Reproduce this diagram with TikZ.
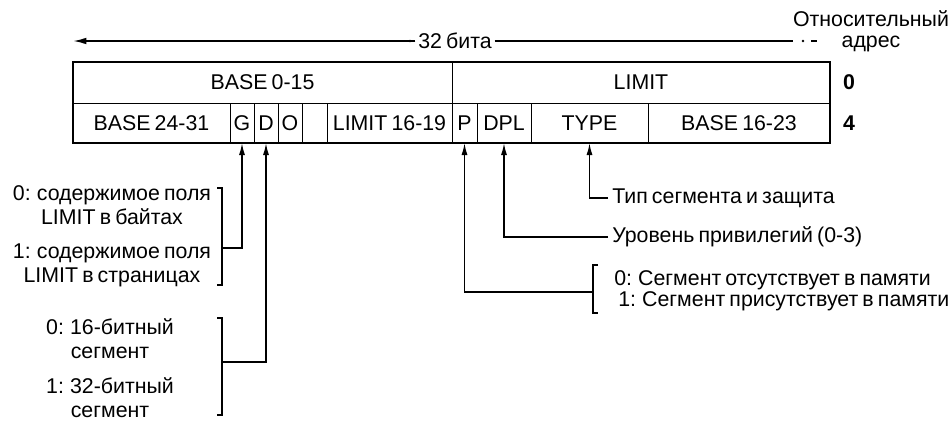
\documentclass[tikz,border=0pt]{standalone}
\usepackage{fontspec}
\setmainfont{Liberation Sans}[WordSpace=0.7]
\usetikzlibrary{arrows.meta,positioning}

\begin{document}
\begin{tikzpicture}[
  x=0.75pt, y=-0.75pt,
  font=\fontsize{16}{18}\selectfont,
  cell/.style ={draw,line width=0.7pt,inner sep=0pt,outer sep=0pt,minimum height=30pt},
  note/.style ={inner sep=0pt,align=center},
  side/.style ={inner xsep=3pt,inner ysep=0pt,anchor=west},
  ptr/.style  ={-{Latex[length=9pt,width=4.5pt]},line width=1.1pt},
  brace/.style={line width=1.1pt},
]
\useasboundingbox (0,0) rectangle (952,422);

% upper row (offset 0)
\node[cell,minimum width=284.25pt,minimum height=30.75pt] (base0) at (262.5,82.5) {BASE 0-15};
\node[cell,minimum width=283.5pt, minimum height=30.75pt] (limit) at (641,82.5)   {LIMIT};

% lower row (offset 4)
\node[cell,minimum width=117.75pt] (base24) at (151.5,123) {BASE 24-31};
\node[cell,minimum width=18pt]     (gbit)   at (242,123)   {G};
\node[cell,minimum width=18pt]     (dbit)   at (266,123)   {D};
\node[cell,minimum width=18pt]     (obit)   at (290,123)   {O};
\node[cell,minimum width=18.75pt]  (avl)    at (314.5,123) {};
\node[cell,minimum width=93.75pt]  (lim16)  at (389.5,123) {LIMIT 16-19};
\node[cell,minimum width=18.75pt]  (pbit)   at (464.5,123) {P};
\node[cell,minimum width=40.5pt]   (dpl)    at (504,123)   {DPL};
\node[cell,minimum width=87.75pt]  (type)   at (589.5,123) {TYPE};
\node[cell,minimum width=136.5pt]  (base16) at (739,123)   {BASE 16-23};
\draw[line width=1.5pt] (base0.north west) rectangle (base16.south east);

\node[font=\fontsize{16}{18}\selectfont\bfseries] (off0) at (849,82.5) {0};
\node[font=\fontsize{16}{18}\selectfont\bfseries] (off4) at (849,123)  {4};

% width of a descriptor
\node[inner sep=2pt] (bits) at (455,41) {32 бита};
\draw[-{Latex[length=10pt,width=5pt]},line width=1.3pt]
  (bits.west) -- (base0.north west |- bits.west);
\fill (410,41) circle (1.4);
\draw[line width=1.3pt] (bits.east) -- (793,41);
\fill (803,41) circle (1.4);
\draw[line width=0.9pt] (811,41) -- (817,41);
\node[note,font=\fontsize{16}{15.75}\selectfont] (addr) at (871,31) {Относительный\\адрес};

% G bit
\node[note] (g0) at (112,205) {0: содержимое поля\\LIMIT в байтах};
\node[note] (g1) at (112,265) {1: содержимое поля\\LIMIT в страницах};
\draw[brace] (217,188) -- (222,188) -- (222,285) -- (217,285);
\coordinate (gj) at (222,248);
\draw[ptr] (gj) -| (gbit.south);

% D bit
\node[note] (d0) at (110,339) {0: 16-битный\\сегмент};
\node[note] (d1) at (110,398) {1: 32-битный\\сегмент};
\draw[brace] (217,318) -- (222,318) -- (222,415) -- (217,415);
\coordinate (dj) at (222,362);
\draw[ptr] (dj) -| (dbit.south);

% TYPE and DPL
\node[side] (tptxt)  at (608,198) {Тип сегмента и защита};
\node[side] (dpltxt) at (608,237) {Уровень привилегий (0-3)};
\draw[ptr] (tptxt.west)  -| (type.south);
\draw[ptr] (dpltxt.west) -| (dpl.south);

% P bit
\node[side,align=left,font=\fontsize{16}{14.25}\selectfont] (ptxt) at (610,291)
  {0: Сегмент отсутствует в памяти\\\hspace*{3pt}1: Сегмент присутствует в памяти};
\draw[brace] (598,265) -- (593,265) -- (593,313) -- (598,313);
\coordinate (pj) at (593,292);
\draw[ptr] (pj) -| (pbit.south);
\end{tikzpicture}
\end{document}
